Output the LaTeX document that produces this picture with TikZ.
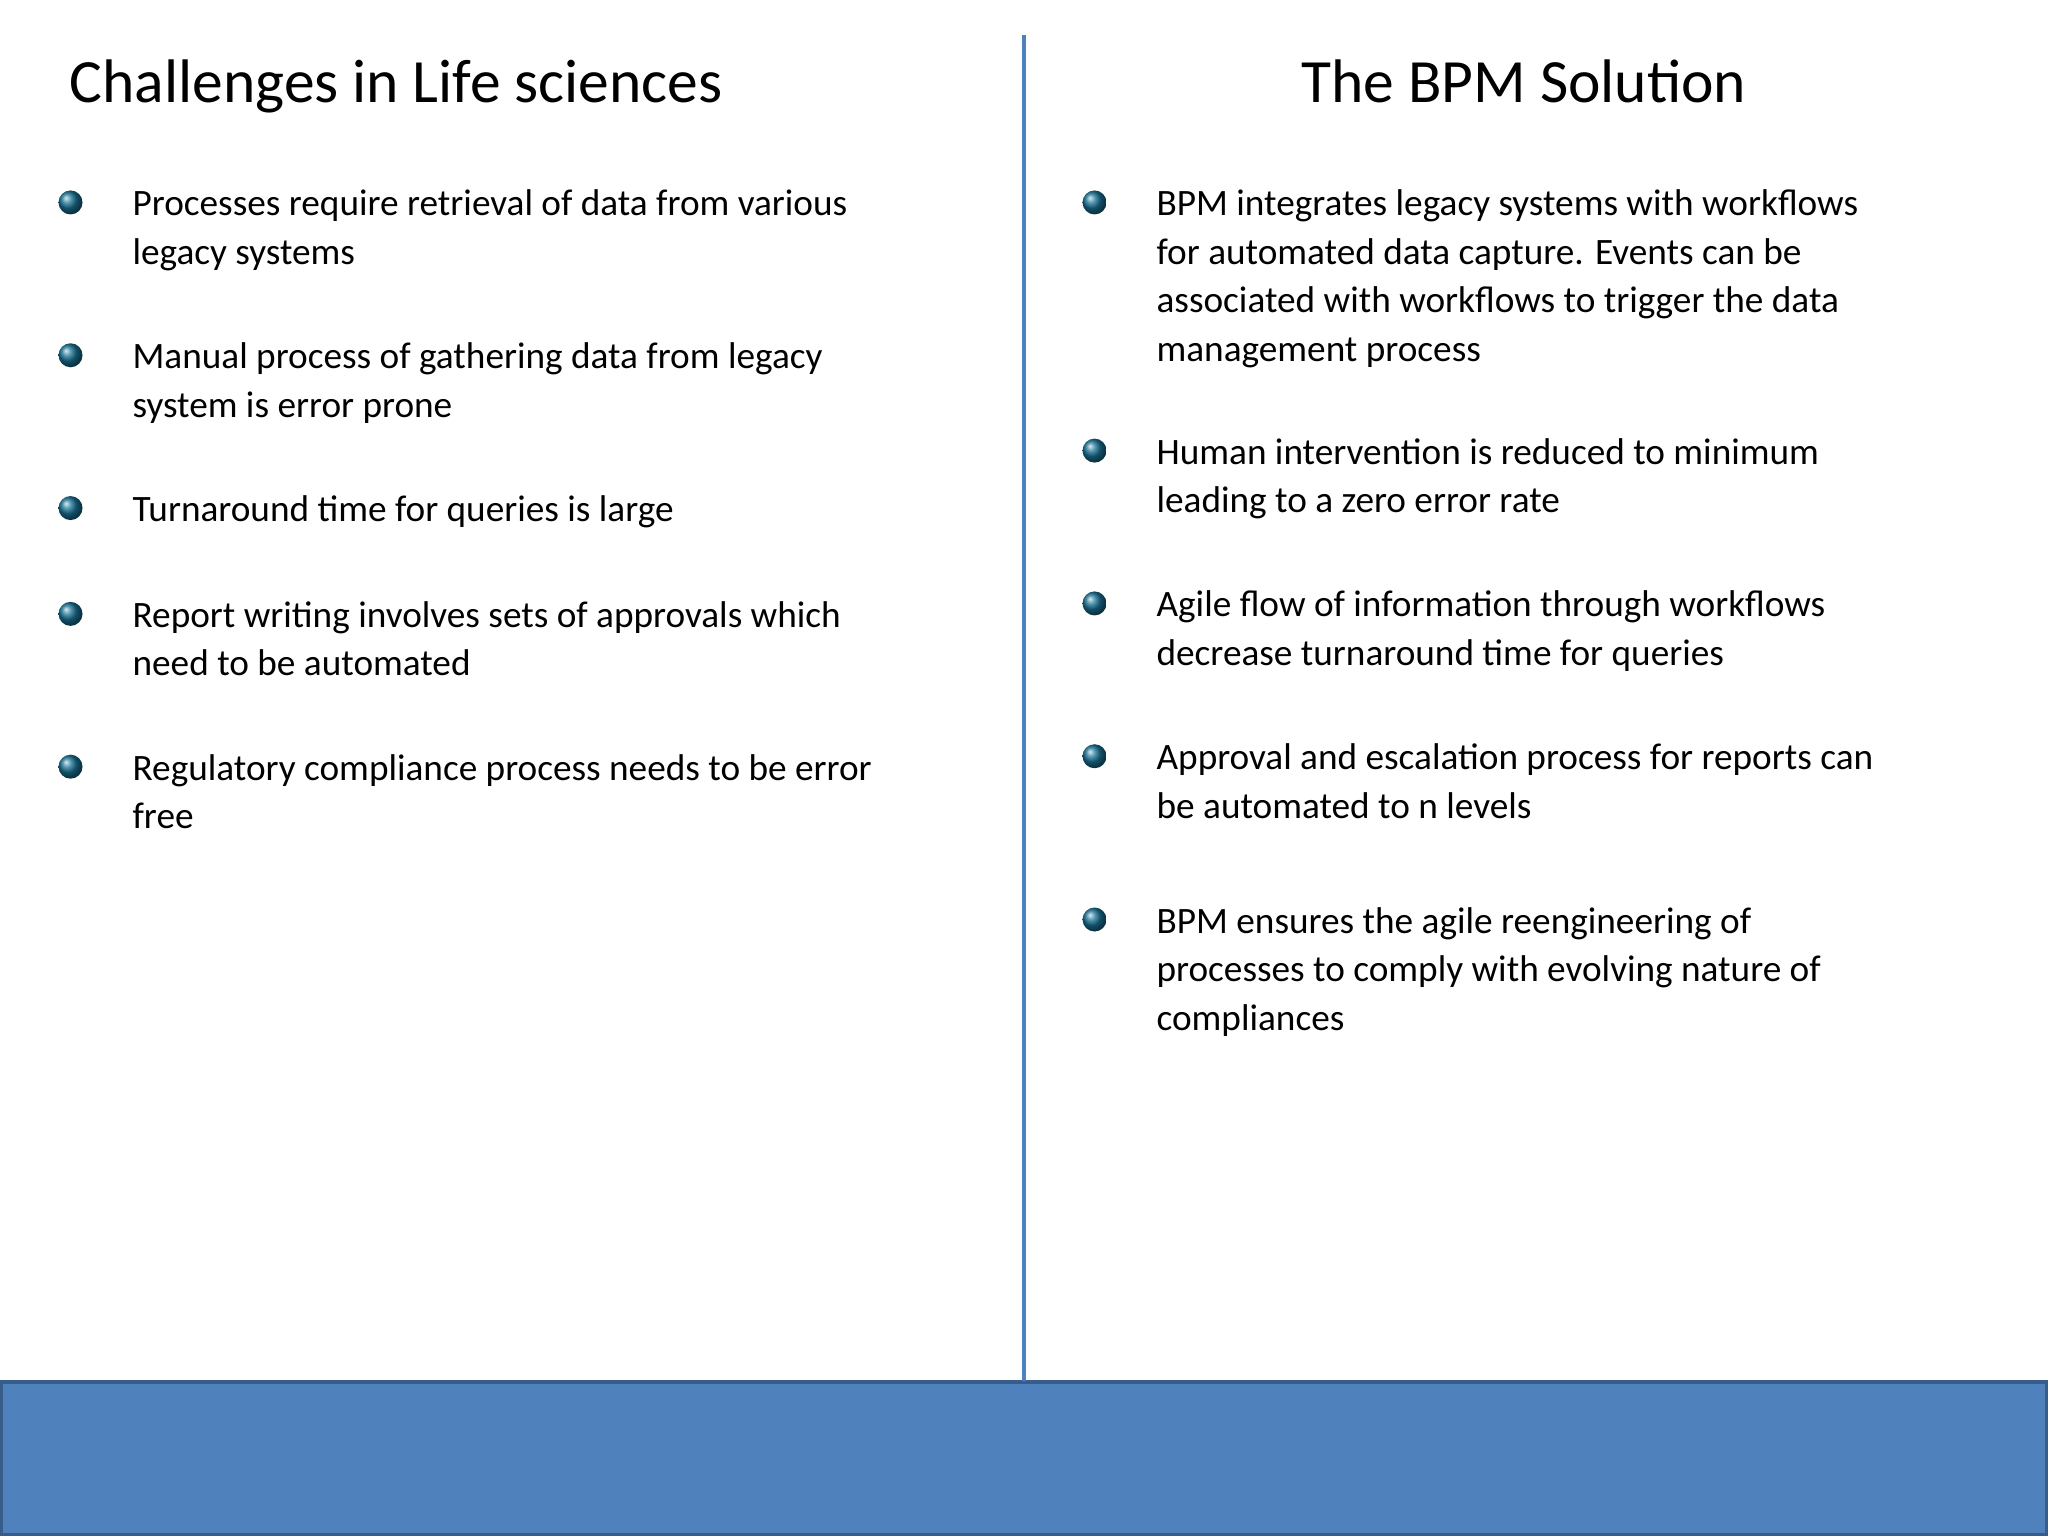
\documentclass[tikz,border=0pt]{standalone}
\usepackage{fontspec}
\setmainfont{Carlito}
\definecolor{bbar}{HTML}{4F81BD}
\definecolor{bedge}{HTML}{385D8A}
\definecolor{bul}{HTML}{1F4E79}
\tikzset{
 item/.style={anchor=north west,inner sep=0pt,align=left,font=\fontsize{10.6}{13.8}\selectfont},
 ttl/.style={anchor=north west,inner sep=0pt,font=\fontsize{17.5}{20}\selectfont},
 bl/.style={circle,inner sep=0pt,minimum size=0.24cm,ball color=bul!80!cyan,draw=none}
}
\begin{document}
\begin{tikzpicture}[x=0.013061cm,y=-0.013061cm]
\useasboundingbox (0,0) rectangle (1568,1176);
\fill[white] (0,0) rectangle (1568,1176);
\fill[bbar,draw=bedge,line width=1pt] (1,1058) rectangle (1567,1175);
\draw[bbar,line width=1.2pt] (784,27) -- (784,1057);
\node[ttl] (t1) at (53,45) {Challenges in Life sciences};
\node[ttl] (t2) at (996,45) {The BPM Solution};
\foreach \y/\n/\t in {145/a/{Processes require retrieval of data from various\\legacy systems},
 262/b/{Manual process of gathering data from legacy\\system is error prone},
 379/c/{Turnaround time for queries is large},
 460/d/{Report writing involves sets of approvals which\\need to be automated},
 577/e/{Regulatory compliance process needs to be error\\free}}{
 \node[item] (L\n) at (101,\y) {\t};
 \node[bl] (bL\n) at (54,\y+10) {};
}
\foreach \y/\n/\t in {145/a/{BPM integrates legacy systems with workflows\\for automated data capture. Events can be\\associated with workflows to trigger the data\\management process},
 335/b/{Human intervention is reduced to minimum\\leading to a zero error rate},
 452/c/{Agile flow of information through workflows\\decrease turnaround time for queries},
 569/d/{Approval and escalation process for reports can\\be automated to n levels},
 694/e/{BPM ensures the agile reengineering of\\processes to comply with evolving nature of\\compliances}}{
 \node[item] (R\n) at (885,\y) {\t};
 \node[bl] (bR\n) at (838,\y+10) {};
}
\end{tikzpicture}
\end{document}
